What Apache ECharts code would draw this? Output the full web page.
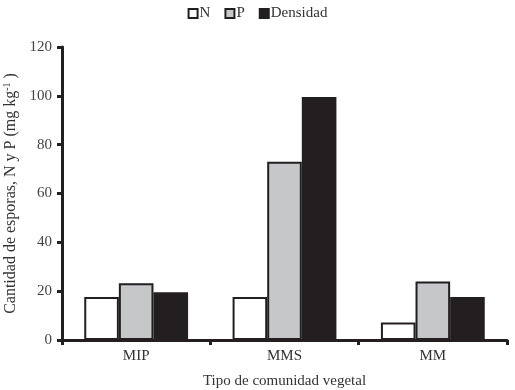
<!DOCTYPE html>
<html>
<head>
<meta charset="utf-8">
<script src="https://cdn.jsdelivr.net/npm/echarts@6/dist/echarts.min.js"></script>
<style>
  html, body { margin: 0; padding: 0; background: #fff; }
  #main { width: 515px; height: 390px; }
</style>
</head>
<body>
<div id="main"></div>
<script>
var categories = ['MIP', 'MMS', 'MM'];
var nValues = [17.6, 17.6, 7.2];
var pValues = [23.2, 73, 24];
var densidad = [19.6, 99.5, 17.6];
var yTicks = [0, 20, 40, 60, 80, 100, 120];

var font = 'Liberation Serif';
var ink = '#231f20';

var chart = echarts.init(document.getElementById('main'));
chart.setOption({
  animation: false,
  textStyle: { fontFamily: font },
  legend: {
    top: 1,
    left: 'center',
    icon: 'rect',
    itemWidth: 9,
    itemHeight: 9,
    itemGap: 14,
    textStyle: { fontFamily: font, fontSize: 15, color: '#333', padding: [0, 0, 0, -3] },
    data: ['N', 'P', 'Densidad']
  },
  grid: { left: 62, right: 8, top: 47, bottom: 50, outerBoundsMode: 'none', containLabel: false },
  xAxis: {
    type: 'category',
    data: categories,
    name: 'Tipo de comunidad vegetal',
    nameLocation: 'middle',
    nameGap: 34,
    nameTextStyle: { fontFamily: font, fontSize: 15, color: '#333' },
    axisLine: { lineStyle: { color: ink, width: 3 } },
    axisTick: { show: true, length: 5, lineStyle: { color: ink, width: 3 } },
    axisLabel: { fontFamily: font, fontSize: 15, color: '#333', margin: 9 }
  },
  yAxis: {
    type: 'value',
    min: yTicks[0],
    max: yTicks[yTicks.length - 1],
    interval: 20,
    name: '{a|Cantidad de esporas, N y P (mg kg}{s|-1}{a| )}',
    nameLocation: 'middle',
    nameGap: 37,
    nameTextStyle: {
      fontFamily: font, color: '#333',
      rich: {
        a: { fontFamily: font, fontSize: 16, color: '#333' },
        s: { fontFamily: font, fontSize: 10, color: '#333', verticalAlign: 'top', padding: [0, 0, 7, 0] }
      }
    },
    axisLine: { show: true, lineStyle: { color: ink, width: 3 } },
    axisTick: { show: true, length: 5, lineStyle: { color: ink, width: 3 } },
    axisLabel: { fontFamily: font, fontSize: 15, color: '#444', margin: 10 },
    splitLine: { show: false }
  },
  series: [
    {
      name: 'N', type: 'bar', data: nValues, barGap: 0, barCategoryGap: '30%',
      itemStyle: { color: '#ffffff', borderColor: ink, borderWidth: 2 }
    },
    {
      name: 'P', type: 'bar', data: pValues, barGap: 0, barCategoryGap: '30%',
      itemStyle: { color: '#c6c7c9', borderColor: ink, borderWidth: 2 }
    },
    {
      name: 'Densidad', type: 'bar', data: densidad, barGap: 0, barCategoryGap: '30%',
      itemStyle: { color: ink, borderColor: ink, borderWidth: 2 }
    }
  ]
});
</script>
</body>
</html>
